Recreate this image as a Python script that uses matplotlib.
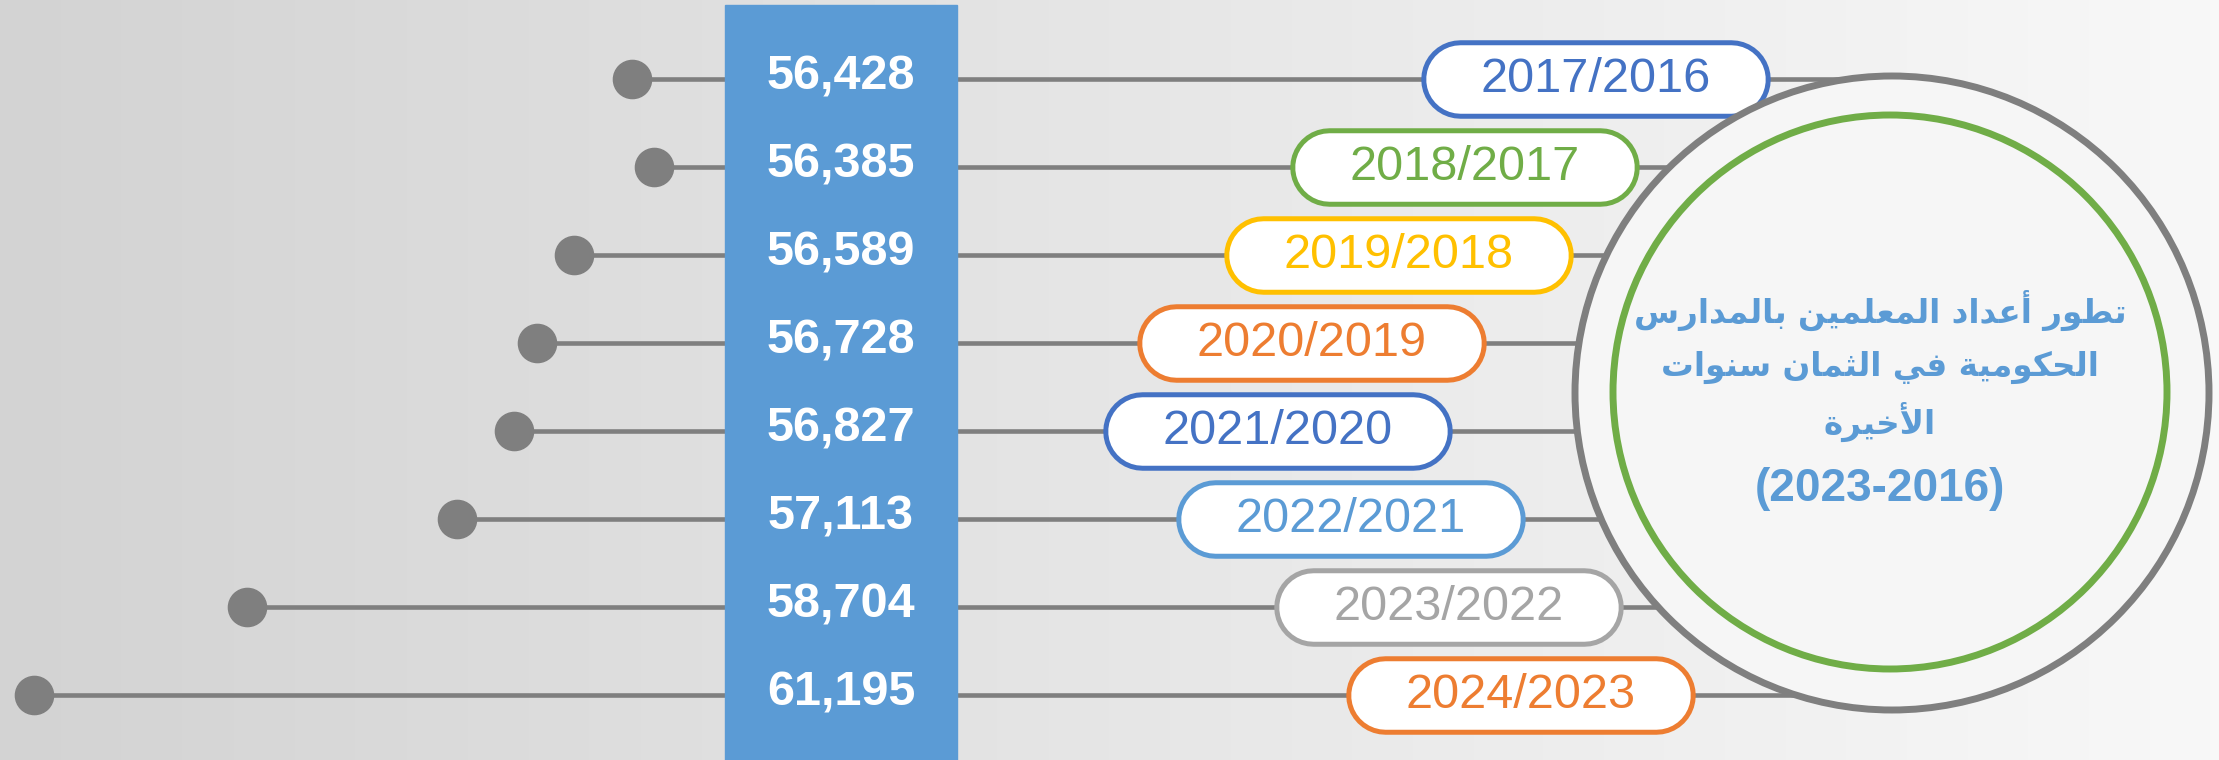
import numpy as np
import matplotlib
matplotlib.use("Agg")
import matplotlib.pyplot as plt
from matplotlib.patches import Rectangle, Circle
from matplotlib.colors import LinearSegmentedColormap

# ---------------- data ----------------
years = ["2017/2016", "2018/2017", "2019/2018", "2020/2019",
         "2021/2020", "2022/2021", "2023/2022", "2024/2023"]
teachers = [56428, 56385, 56589, 56728, 56827, 57113, 58704, 61195]
year_colors = ["#4472c4", "#70ad47", "#ffc000", "#ed7d31",
               "#4472c4", "#5b9bd5", "#a5a5a5", "#ed7d31"]
title_lines = ["تطور أعداد المعلمين بالمدارس",
               "الحكومية في الثمان سنوات",
               "الأخيرة"]
title_years = "(2023-2016)"

# ---------------- minimal Arabic shaping ----------------
AR_FORMS = {
    '\u0627': ('\uFE8D', '\uFE8E', None, None),
    '\u0623': ('\uFE83', '\uFE84', None, None),
    '\u0628': ('\uFE8F', '\uFE90', '\uFE91', '\uFE92'),
    '\u0629': ('\uFE93', '\uFE94', None, None),
    '\u062A': ('\uFE95', '\uFE96', '\uFE97', '\uFE98'),
    '\u062B': ('\uFE99', '\uFE9A', '\uFE9B', '\uFE9C'),
    '\u062D': ('\uFEA1', '\uFEA2', '\uFEA3', '\uFEA4'),
    '\u062E': ('\uFEA5', '\uFEA6', '\uFEA7', '\uFEA8'),
    '\u062F': ('\uFEA9', '\uFEAA', None, None),
    '\u0631': ('\uFEAD', '\uFEAE', None, None),
    '\u0633': ('\uFEB1', '\uFEB2', '\uFEB3', '\uFEB4'),
    '\u0637': ('\uFEC1', '\uFEC2', '\uFEC3', '\uFEC4'),
    '\u0639': ('\uFEC9', '\uFECA', '\uFECB', '\uFECC'),
    '\u0641': ('\uFED1', '\uFED2', '\uFED3', '\uFED4'),
    '\u0643': ('\uFED9', '\uFEDA', '\uFEDB', '\uFEDC'),
    '\u0644': ('\uFEDD', '\uFEDE', '\uFEDF', '\uFEE0'),
    '\u0645': ('\uFEE1', '\uFEE2', '\uFEE3', '\uFEE4'),
    '\u0646': ('\uFEE5', '\uFEE6', '\uFEE7', '\uFEE8'),
    '\u0648': ('\uFEED', '\uFEEE', None, None),
    '\u064A': ('\uFEF1', '\uFEF2', '\uFEF3', '\uFEF4'),
}
LAM_ALEF = {'\u0627': ('\uFEFB', '\uFEFC'), '\u0623': ('\uFEF7', '\uFEF8')}


def shape_ar(text):
    items = []
    i = 0
    while i < len(text):
        c = text[i]
        if c == '\u0644' and i + 1 < len(text) and text[i + 1] in LAM_ALEF:
            items.append(('LA', text[i + 1]))
            i += 2
        else:
            items.append(('C', c))
            i += 1

    def is_letter(it):
        return it[0] == 'LA' or it[1] in AR_FORMS

    def joins_next(it):
        if it[0] == 'LA':
            return False
        f = AR_FORMS.get(it[1])
        return f is not None and f[2] is not None

    out = []
    for j, it in enumerate(items):
        prev = items[j - 1] if j > 0 else None
        nxt = items[j + 1] if j + 1 < len(items) else None
        jp = prev is not None and is_letter(it) and joins_next(prev)
        jn = nxt is not None and is_letter(nxt) and joins_next(it)
        k, c = it
        if k == 'LA':
            out.append(LAM_ALEF[c][1 if jp else 0])
        elif c in AR_FORMS:
            iso, fin, ini, med = AR_FORMS[c]
            if jp and jn:
                out.append(med)
            elif jp:
                out.append(fin)
            elif jn:
                out.append(ini)
            else:
                out.append(iso)
        else:
            out.append(c)
    return ''.join(reversed(out))


# ---------------- layout ----------------
W, H = 2219, 760
PX = 72 / 100  # points per pixel
GRAY = "#7f7f7f"
BAND = "#5b9bd5"
Y0, DY = 79, 88
BAND_L, BAND_R = 725, 957
box_left = [1422, 1291, 1225, 1138, 1104, 1177, 1275, 1347]
BOX_W, BOX_H, BOX_EDGE = 347, 76, 5
CX, CY, R_OUT, R_IN = 1892, 393, 317, 277

n = len(teachers)
row_y = Y0 + DY * np.arange(n)

plt.rcParams['font.family'] = ['Liberation Sans', 'DejaVu Sans']

fig = plt.figure(figsize=(W / 100, H / 100), dpi=100)

# background gradient
axbg = fig.add_axes([0, 0, 1, 1], zorder=0)
cmap = LinearSegmentedColormap.from_list("bg", ["#d3d3d3", "#e6e6e6", "#f8f8f8"])
axbg.imshow(np.linspace(0, 1, 512)[None, :], aspect='auto', cmap=cmap,
            extent=[0, W, H, 0])
axbg.set_axis_off()

# lollipop axes (value scale, inverted, pointing left from the band)
BASE = 56300.0


def fwd(v):
    return np.sqrt(np.clip(np.asarray(v, dtype=float) - BASE, 0, None))


def inv(u):
    return np.asarray(u, dtype=float) ** 2 + BASE


axl = fig.add_axes([0, 0, BAND_L / W, 1], zorder=1)
axl.set_xscale('function', functions=(fwd, inv))
axl.set_xlim(61670, 56305)
axl.set_ylim(H, 0)
axl.patch.set_alpha(0)
axl.set_axis_off()
axl.hlines(row_y, teachers, 56305, color=GRAY, lw=3.3, zorder=2)
axl.plot(teachers, row_y, 'o', color=GRAY, ms=27.5, zorder=3, clip_on=False)

# overlay axes in pixel units
axo = fig.add_axes([0, 0, 1, 1], zorder=2)
axo.set_xlim(0, W)
axo.set_ylim(H, 0)
axo.patch.set_alpha(0)
axo.set_axis_off()

axo.hlines(row_y, BAND_R, CX, color=GRAY, lw=3.3, zorder=1)
axo.add_patch(Rectangle((BAND_L, 5), BAND_R - BAND_L, H, color=BAND, zorder=2))

for y, v in zip(row_y, teachers):
    axo.text((BAND_L + BAND_R) / 2, y - 2, f"{v:,}", ha='center', va='center',
             color='white', fontsize=35, fontweight='bold', zorder=3)

# pill-shaped year labels (round-capped strokes give true semicircular ends)
for y, lab, col, bl in zip(row_y, years, year_colors, box_left):
    x0, x1 = bl + BOX_H / 2, bl + BOX_W - BOX_H / 2
    axo.plot([x0, x1], [y, y], color=col, lw=(BOX_H + BOX_EDGE / 2) * PX,
             solid_capstyle='round', zorder=3)
    axo.plot([x0, x1], [y, y], color='white', lw=(BOX_H - 1.5 * BOX_EDGE) * PX,
             solid_capstyle='round', zorder=3.5)
    axo.text(bl + BOX_W / 2, y + 1, lab, ha='center', va='center', color=col,
             fontsize=35, zorder=4)

axo.add_patch(Circle((CX, CY), R_OUT, fc="#f6f6f6", ec=GRAY, lw=5, zorder=5))
axo.add_patch(Circle((CX - 2, CY - 1), R_IN, fc="none", ec="#70ad47", lw=5, zorder=6))

for y, line in zip([310, 367, 422], title_lines):
    axo.text(1880, y, shape_ar(line), ha='center', va='center', color=BAND,
             fontsize=23.5, fontweight='bold', family=['DejaVu Sans'], zorder=7)
axo.text(1880, 489, title_years, ha='center', va='center', color=BAND,
         fontsize=33, fontweight='bold', zorder=7)

fig.savefig("out.png", dpi=100)
